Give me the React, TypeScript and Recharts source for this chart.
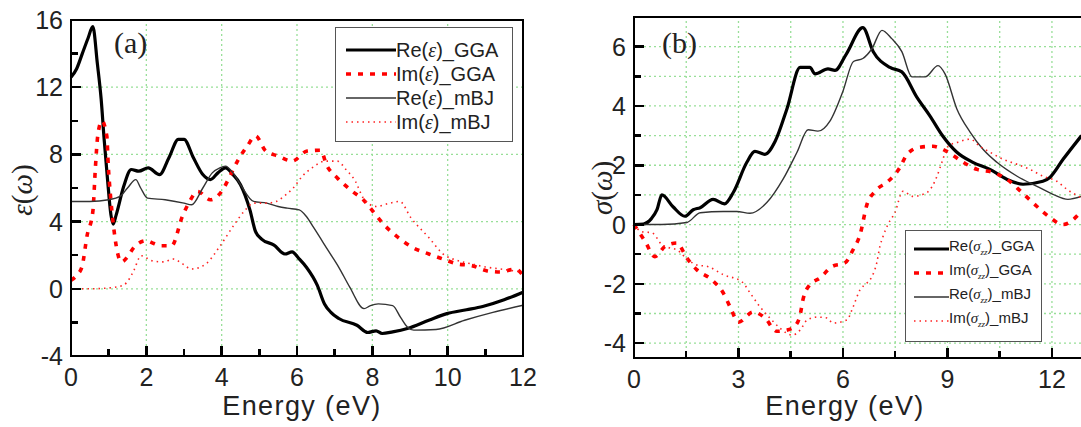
import React from 'react'
import { LineChart, Line, XAxis, YAxis, ReferenceLine, Legend } from 'recharts'

// ─── Panel (a): dielectric function ─────────────────────────────────────────

const reEpsGgaE = [0, 0.15, 0.3, 0.45, 0.58, 0.7, 0.8, 0.88, 0.97, 1.06, 1.12, 1.2, 1.4, 1.6, 1.8, 2.05, 2.35, 2.6, 2.85, 3.0, 3.25, 3.5, 3.7, 3.9, 4.1, 4.3, 4.5, 4.75, 4.9, 5.06, 5.39, 5.68, 5.87, 6.05, 6.25, 6.54, 6.73, 6.9, 7.11, 7.59, 7.88, 8.1, 8.26, 8.54, 8.93, 9.5, 9.98, 10.5, 10.93, 11.5, 12]
const reEpsGga = [12.6, 13.1, 14.0, 14.9, 15.6, 13.4, 11.3, 8.9, 6.5, 4.4, 3.85, 4.4, 6.1, 7.1, 7.0, 7.2, 6.8, 7.8, 8.9, 8.9, 7.8, 6.8, 6.5, 6.9, 7.2, 6.8, 6.2, 4.7, 3.4, 2.96, 2.6, 2.07, 2.2, 1.8, 1.28, 0.2, -0.9, -1.4, -1.77, -2.17, -2.6, -2.5, -2.66, -2.56, -2.36, -1.87, -1.48, -1.25, -1.05, -0.65, -0.2]

const imEpsGgaE = [0, 0.15, 0.29, 0.43, 0.58, 0.65, 0.71, 0.82, 0.95, 0.99, 1.05, 1.12, 1.34, 1.5, 1.67, 2.0, 2.2, 2.39, 2.67, 2.96, 3.15, 3.36, 3.7, 4.0, 4.24, 4.42, 4.68, 4.9, 5.17, 5.5, 5.87, 6.27, 6.62, 6.8, 7.07, 7.47, 7.76, 8.02, 8.3, 8.69, 9.07, 9.5, 9.88, 10.26, 10.64, 11.03, 11.4, 11.79, 12]
const imEpsGga = [0.5, 0.8, 1.3, 3.2, 4.6, 7.3, 9.1, 10.0, 9.1, 7.3, 5.5, 3.9, 1.6, 1.9, 2.46, 2.86, 2.7, 2.56, 2.56, 4.33, 5.2, 5.8, 5.3, 5.8, 6.8, 7.6, 8.5, 9.1, 8.2, 7.9, 7.6, 8.2, 8.25, 7.3, 6.6, 5.8, 5.3, 4.6, 3.84, 3.05, 2.46, 2.07, 1.77, 1.48, 1.38, 1.08, 1.0, 1.18, 0.8]

const reEpsMbjE = [0, 0.5, 1.0, 1.3, 1.5, 1.72, 1.85, 2.03, 2.5, 3.0, 3.2, 3.5, 3.75, 3.95, 4.1, 4.3, 4.5, 4.85, 5.2, 5.5, 5.74, 6.06, 6.25, 6.44, 6.83, 7.11, 7.4, 7.78, 7.95, 8.16, 8.54, 8.75, 8.93, 9.1, 9.69, 10.45, 11.2, 12]
const reEpsMbj = [5.2, 5.2, 5.3, 5.5, 6.0, 6.5, 6.0, 5.4, 5.3, 5.1, 5.0, 6.0, 6.9, 7.2, 7.3, 6.9, 6.2, 5.2, 5.1, 4.9, 4.8, 4.7, 4.3, 3.65, 2.27, 1.28, 0.1, -1.18, -1.0, -0.9, -1.0, -1.7, -2.27, -2.46, -2.42, -1.87, -1.4, -0.98]

const imEpsMbjE = [0, 0.5, 1.0, 1.38, 1.55, 1.67, 1.86, 2.15, 2.45, 2.72, 2.95, 3.2, 3.58, 3.96, 4.34, 4.63, 4.85, 5.2, 5.45, 5.65, 5.9, 6.14, 6.4, 6.75, 7.07, 7.3, 7.55, 7.76, 8.1, 8.47, 8.73, 9.02, 9.5, 9.88, 10.26, 10.64, 11.0, 11.4, 12]
const imEpsMbj = [0, 0, 0.05, 0.2, 0.6, 1.1, 1.97, 1.67, 1.6, 1.77, 1.5, 1.18, 1.48, 2.56, 3.84, 4.7, 5.1, 5.1, 5.2, 5.5, 6.0, 6.7, 7.2, 7.6, 7.6, 7.1, 6.4, 5.4, 4.9, 5.1, 5.2, 4.24, 3.05, 2.07, 1.68, 1.48, 1.3, 1.18, 1.0]

// ─── Panel (b): optical conductivity ────────────────────────────────────────

const reSigGgaE = [0, 0.27, 0.5, 0.66, 0.8, 1.12, 1.46, 1.7, 1.9, 2.27, 2.6, 2.85, 3.24, 3.47, 3.76, 4.05, 4.39, 4.77, 5.05, 5.2, 5.57, 5.77, 6.1, 6.57, 6.87, 7.35, 7.69, 8.12, 8.5, 8.87, 9.27, 9.73, 10.22, 10.7, 11.17, 11.74, 11.94, 12.32, 12.85]
const reSigGga = [0, 0.02, 0.2, 0.5, 1.0, 0.6, 0.28, 0.5, 0.57, 0.85, 0.7, 1.08, 2.1, 2.47, 2.37, 2.8, 3.9, 5.3, 5.3, 5.08, 5.25, 5.2, 5.76, 6.64, 5.83, 5.3, 5.15, 4.3, 3.66, 2.98, 2.44, 2.1, 1.86, 1.53, 1.36, 1.46, 1.59, 2.2, 3.0]

const imSigGgaE = [0, 0.32, 0.6, 0.89, 1.23, 1.52, 1.8, 2.23, 2.56, 2.76, 3.0, 3.42, 3.76, 4.1, 4.42, 4.6, 4.77, 4.85, 5.05, 5.34, 5.68, 6.06, 6.29, 6.49, 6.69, 6.92, 7.3, 7.64, 7.84, 8.21, 8.58, 8.98, 9.45, 9.85, 10.31, 10.7, 11.14, 11.57, 11.94, 12.32, 12.85]
const imSigGga = [0, -0.57, -1.08, -0.74, -0.62, -1.13, -1.52, -1.86, -2.3, -2.78, -3.29, -2.95, -3.15, -3.6, -3.55, -3.45, -3.05, -2.54, -2.03, -1.8, -1.42, -1.29, -0.85, -0.34, 0.68, 1.12, 1.46, 1.93, 2.37, 2.61, 2.64, 2.47, 2.1, 1.86, 1.76, 1.53, 1.08, 0.61, 0.24, 0, 0.45]

const reSigMbjE = [0, 0.8, 1.52, 1.9, 2.56, 2.95, 3.33, 3.82, 4.28, 4.68, 5.0, 5.28, 5.63, 6.0, 6.3, 6.57, 6.83, 7.12, 7.4, 7.69, 7.98, 8.36, 8.73, 8.93, 9.27, 9.65, 10.02, 10.42, 11.0, 11.57, 12.03, 12.46, 12.85]
const reSigMbj = [0, 0, 0.07, 0.4, 0.44, 0.44, 0.38, 0.75, 1.53, 2.44, 3.2, 3.15, 3.5, 4.5, 5.5, 5.6, 5.93, 6.55, 6.27, 5.83, 4.98, 4.98, 5.36, 5.08, 3.9, 3.12, 2.54, 2.1, 1.63, 1.29, 1.02, 0.85, 0.95]

const imSigMbjE = [0, 0.22, 0.52, 0.8, 1.03, 1.23, 1.55, 1.8, 2.13, 2.56, 3.1, 3.33, 3.62, 3.9, 4.19, 4.54, 4.77, 4.97, 5.25, 5.54, 5.71, 6.11, 6.29, 6.49, 6.69, 6.83, 6.97, 7.06, 7.15, 7.29, 7.49, 7.72, 8.01, 8.41, 8.7, 8.84, 9.02, 9.3, 9.65, 9.93, 10.22, 10.6, 11.0, 11.37, 11.74, 12.14, 12.43, 12.85]
const imSigMbj = [0, -0.24, -0.28, -0.68, -0.79, -0.85, -1.19, -1.36, -1.42, -1.69, -1.93, -2.3, -2.78, -3.15, -3.49, -3.73, -3.56, -3.22, -3.12, -3.15, -3.32, -3.22, -2.78, -2.2, -1.97, -1.76, -1.29, -0.74, -0.4, 0, 0.4, 1.12, 0.95, 1.08, 1.63, 2.1, 2.64, 2.78, 2.88, 2.64, 2.44, 2.2, 2.03, 1.86, 1.63, 1.46, 1.19, 0.9]

// ─── Axes ticks / grids ─────────────────────────────────────────────────────

const aXDomain = [0, 12]
const aYDomain = [-4, 16]
const aXTicks = [0, 1, 2, 3, 4, 5, 6, 7, 8, 9, 10, 11, 12]
const aYTicks = [-4, -2, 0, 2, 4, 6, 8, 10, 12, 14, 16]
const aXGrid = [2, 4, 6, 8, 10]
const aYGrid = [0, 4, 8, 12]

const bXDomain = [0, 14]
const bYDomain = [-4.5, 7]
const bXTicks = [0, 1.5, 3, 4.5, 6, 7.5, 9, 10.5, 12]
const bYTicks = [-4, -3, -2, -1, 0, 1, 2, 3, 4, 5, 6]
const bXGrid = [1.5, 3, 4.5, 6, 7.5, 9, 10.5, 12, 13.5]
const bYGrid = [-4, -3, -2, -1, 0, 1, 2, 3, 4, 5, 6]

const legendOrderA = ['Re(ε)_GGA', 'Im(ε)_GGA', 'Re(ε)_mBJ', 'Im(ε)_mBJ']
const legendOrderB = ['Re(σzz)_GGA', 'Im(σzz)_GGA', 'Re(σzz)_mBJ', 'Im(σzz)_mBJ']

const zip = (es: number[], vs: number[]) => es.map((x, i) => ({ x, y: vs[i] }))

const SANS = "'Liberation Sans', Arial, sans-serif"
const SERIF = "'Liberation Serif', 'Times New Roman', serif"
const GRID = '#98df98'

const thickBlack = { stroke: '#000', strokeWidth: 3.2 }
const thickRed = { stroke: '#f00', strokeWidth: 3.6, strokeDasharray: '5 7' }
const thinBlack = { stroke: '#333', strokeWidth: 1.4 }
const thinRed = { stroke: '#f22', strokeWidth: 1.6, strokeDasharray: '1.5 4' }

const isMult = (v: number, step: number) => Math.abs(v / step - Math.round(v / step)) < 1e-6

// axis ticks only carry the labels; (x, y) sit on the axis line since tickSize/tickMargin are 0
function xLabel(labelStep: number) {
  return (p: any) => {
    const v = p.payload.value
    if (!isMult(v, labelStep)) return <g key={`x${v}`} />
    return (
      <text key={`x${v}`} x={p.x} y={p.y + 30} textAnchor="middle" fontSize={25} fontFamily={SANS} fill="#222">
        {v}
      </text>
    )
  }
}

function yLabel(labelStep: number) {
  return (p: any) => {
    const v = p.payload.value
    if (!isMult(v, labelStep)) return <g key={`y${v}`} />
    return (
      <text key={`y${v}`} x={p.x - 8} y={p.y + 9} textAnchor="end" fontSize={25} fontFamily={SANS} fill="#222">
        {v}
      </text>
    )
  }
}

function LegendLabel({ name }: { name: string }) {
  const m = name.match(/^(\w+)\((.)(zz)?\)(.*)$/)
  if (!m) return <>{name}</>
  return (
    <>
      {m[1]}(
      <i style={{ fontFamily: SERIF }}>{m[2]}</i>
      {m[3] && <sub style={{ fontSize: '0.6em', fontFamily: SERIF, fontStyle: 'italic' }}>{m[3]}</sub>})
      {m[4]}
    </>
  )
}

function legendBox(opts: { order: string[]; width: number; height: number; pad: string; sample: number; fontSize: number }) {
  return (props: any) => {
    const items = (props.payload ?? [])
      .filter((e: any) => opts.order.includes(e.value))
      .sort((a: any, b: any) => opts.order.indexOf(a.value) - opts.order.indexOf(b.value))
    return (
      <div
        style={{
          boxSizing: 'border-box',
          width: opts.width,
          height: opts.height,
          border: '1.5px solid #555',
          background: '#fff',
          padding: opts.pad,
        }}
      >
        {items.map((entry: any) => {
          const s = entry.payload ?? {}
          return (
            <div key={entry.value} style={{ display: 'flex', alignItems: 'center', height: 24 }}>
              <svg width={opts.sample} height={10} style={{ flex: 'none' }}>
                <line
                  x1={0}
                  x2={opts.sample}
                  y1={5}
                  y2={5}
                  stroke={entry.color}
                  strokeWidth={s.strokeWidth ?? 2}
                  strokeDasharray={s.strokeDasharray}
                />
              </svg>
              <span style={{ fontSize: opts.fontSize, fontFamily: SANS, color: '#222', whiteSpace: 'nowrap', lineHeight: '24px' }}>
                <LegendLabel name={entry.value} />
              </span>
            </div>
          )
        })}
      </div>
    )
  }
}

const W = 560
const H = 427
const mA = { top: 20, right: 37, bottom: 70, left: 70 }
const mB = { top: 17, right: 28.4, bottom: 68, left: 43 }

// plot box of a panel: chart margins plus the 1px axes
function plotBox(panelLeft: number, m: typeof mA, xd: number[], yd: number[]) {
  const left = panelLeft + m.left + 1
  const top = m.top
  const w = W - m.left - m.right - 1
  const h = H - m.top - m.bottom - 1
  return { left, top, w, h, pxX: w / (xd[1] - xd[0]), pxY: h / (yd[1] - yd[0]), xd, yd }
}

// Box frame with inward ticks, laid over the chart (stroked edge shapes inside
// the svg did not show up in the render).
function Frame({ box, xt, yt, xStep, yStep }: { box: ReturnType<typeof plotBox>; xt: number[]; yt: number[]; xStep: number; yStep: number }) {
  const bw = 2.6
  const tw = 2.5
  return (
    <>
      <div
        style={{
          position: 'absolute',
          boxSizing: 'border-box',
          left: box.left - bw / 2,
          top: box.top - bw / 2,
          width: box.w + bw,
          height: box.h + bw,
          border: `${bw}px solid #000`,
        }}
      />
      {xt.map(v => {
        const len = isMult(v, xStep) ? 10 : 7
        const x = box.left + (v - box.xd[0]) * box.pxX
        return <div key={`fx${v}`} style={{ position: 'absolute', left: x - tw / 2, top: box.top + box.h - len, width: tw, height: len, background: '#000' }} />
      })}
      {yt.map(v => {
        const len = isMult(v, yStep) ? 10 : 7
        const y = box.top + (box.yd[1] - v) * box.pxY
        return <div key={`fy${v}`} style={{ position: 'absolute', left: box.left, top: y - tw / 2, width: len, height: tw, background: '#000' }} />
      })}
    </>
  )
}

function PanelA() {
  return (
    <LineChart width={W} height={H} margin={mA}>
      <XAxis dataKey="x" type="number" domain={aXDomain} ticks={aXTicks} interval={0} height={1} tickSize={0} tickMargin={0} axisLine={false} tickLine={false} tick={xLabel(2)} />
      <YAxis type="number" domain={aYDomain} ticks={aYTicks} interval={0} width={1} tickSize={0} tickMargin={0} axisLine={false} tickLine={false} tick={yLabel(4)} />
      {aXGrid.map(v => <ReferenceLine key={`gx${v}`} x={v} stroke={GRID} strokeDasharray="2 3" strokeWidth={1.3} />)}
      {aYGrid.map(v => <ReferenceLine key={`gy${v}`} y={v} stroke={GRID} strokeDasharray="2 3" strokeWidth={1.3} />)}
      <Line data={zip(reEpsGgaE, reEpsGga)} dataKey="y" name="Re(ε)_GGA" type="monotone" dot={false} isAnimationActive={false} {...thickBlack} />
      <Line data={zip(imEpsGgaE, imEpsGga)} dataKey="y" name="Im(ε)_GGA" type="monotone" dot={false} isAnimationActive={false} {...thickRed} />
      <Line data={zip(reEpsMbjE, reEpsMbj)} dataKey="y" name="Re(ε)_mBJ" type="monotone" dot={false} isAnimationActive={false} {...thinBlack} />
      <Line data={zip(imEpsMbjE, imEpsMbj)} dataKey="y" name="Im(ε)_mBJ" type="monotone" dot={false} isAnimationActive={false} {...thinRed} />
      <Legend
        layout="horizontal"
        verticalAlign="middle"
        align="center"
        wrapperStyle={{ left: 335, top: 27, width: 'auto', height: 'auto' }}
        content={legendBox({ order: legendOrderA, width: 178, height: 115, pad: '10px 4px 6px 10px', sample: 50, fontSize: 20 })}
      />
    </LineChart>
  )
}

function PanelB() {
  return (
    <LineChart width={W} height={H} margin={mB}>
      <XAxis dataKey="x" type="number" domain={bXDomain} ticks={bXTicks} interval={0} height={1} tickSize={0} tickMargin={0} axisLine={false} tickLine={false} tick={xLabel(3)} />
      <YAxis type="number" domain={bYDomain} ticks={bYTicks} interval={0} width={1} tickSize={0} tickMargin={0} axisLine={false} tickLine={false} tick={yLabel(2)} />
      {bXGrid.map(v => <ReferenceLine key={`gx${v}`} x={v} stroke={GRID} strokeDasharray="2 3" strokeWidth={1.3} />)}
      {bYGrid.map(v => <ReferenceLine key={`gy${v}`} y={v} stroke={GRID} strokeDasharray="2 3" strokeWidth={1.3} />)}
      <Line data={zip(reSigGgaE, reSigGga)} dataKey="y" name="Re(σzz)_GGA" type="monotone" dot={false} isAnimationActive={false} {...thickBlack} />
      <Line data={zip(imSigGgaE, imSigGga)} dataKey="y" name="Im(σzz)_GGA" type="monotone" dot={false} isAnimationActive={false} {...thickRed} />
      <Line data={zip(reSigMbjE, reSigMbj)} dataKey="y" name="Re(σzz)_mBJ" type="monotone" dot={false} isAnimationActive={false} {...thinBlack} />
      <Line data={zip(imSigMbjE, imSigMbj)} dataKey="y" name="Im(σzz)_mBJ" type="monotone" dot={false} isAnimationActive={false} {...thinRed} />
      <Legend
        layout="horizontal"
        verticalAlign="middle"
        align="center"
        wrapperStyle={{ left: 315, top: 230, width: 'auto', height: 'auto' }}
        content={legendBox({ order: legendOrderB, width: 137, height: 112, pad: '6px 2px 6px 8px', sample: 35, fontSize: 15 })}
      />
    </LineChart>
  )
}

const abs = (s: React.CSSProperties): React.CSSProperties => ({ position: 'absolute', whiteSpace: 'nowrap', lineHeight: 1, ...s })

export default function App() {
  const boxA = plotBox(0, mA, aXDomain, aYDomain)
  const boxB = plotBox(590, mB, bXDomain, bYDomain)
  return (
    <div style={{ position: 'fixed', left: 0, top: 0, width: 1081, height: 427, overflow: 'hidden', background: '#fff' }}>
      <div style={abs({ left: 0, top: 0 })}>
        <PanelA />
      </div>
      <div style={abs({ left: 590, top: 0 })}>
        <PanelB />
      </div>

      <Frame box={boxA} xt={aXTicks} yt={aYTicks} xStep={2} yStep={4} />
      <Frame box={boxB} xt={bXTicks} yt={bYTicks} xStep={3} yStep={2} />

      <div style={abs({ left: 114, top: 28, fontFamily: SERIF, fontSize: 30, color: '#222' })}>(a)</div>
      <div style={abs({ left: 662, top: 28, fontFamily: SERIF, fontSize: 30, color: '#222' })}>(b)</div>

      <div style={abs({ left: 22, top: 190, transform: 'translate(-50%, -50%) rotate(-90deg)', fontFamily: SERIF, fontSize: 29, color: '#222' })}>
        <i>ε</i>(<i>ω</i>)
      </div>
      <div style={abs({ left: 602, top: 188, transform: 'translate(-50%, -50%) rotate(-90deg)', fontFamily: SERIF, fontSize: 29, color: '#222' })}>
        <i>σ</i>(<i>ω</i>)
      </div>

      <div style={abs({ left: 302, top: 393, transform: 'translateX(-50%)', fontFamily: SANS, fontSize: 27, letterSpacing: 1.4, color: '#222' })}>
        Energy (eV)
      </div>
      <div style={abs({ left: 845, top: 393, transform: 'translateX(-50%)', fontFamily: SANS, fontSize: 27, letterSpacing: 1.4, color: '#222' })}>
        Energy (eV)
      </div>
    </div>
  )
}
